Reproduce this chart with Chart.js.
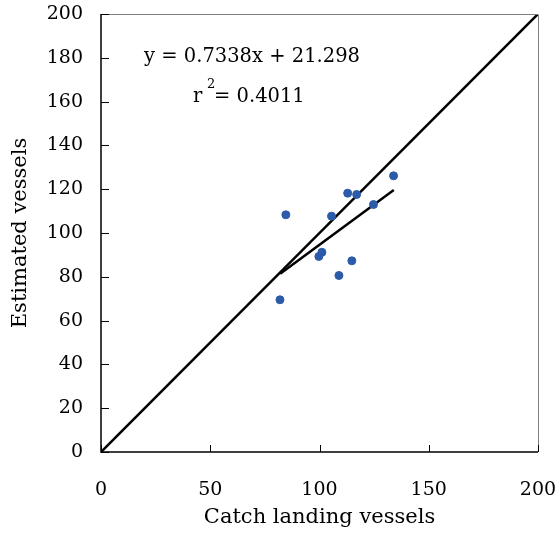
<!DOCTYPE html>
<html>
<head>
<meta charset="utf-8">
<script src="https://cdn.jsdelivr.net/npm/chart.js@4"></script>
<style>
  html, body { margin: 0; padding: 0; background: #fff; }
  #wrap { width: 560px; height: 535px; }
</style>
</head>
<body>
<div id="wrap"><canvas id="vesselChart" width="560" height="535"></canvas></div>
<script>
// values
var catchVessels = [84.6, 105.5, 112.9, 117.0, 133.9, 124.7, 101.1, 99.7, 114.8, 108.9, 81.9];
var estimatedVessels = [108.3, 107.7, 118.2, 117.6, 126.1, 113.0, 91.2, 89.3, 87.3, 80.6, 69.5];
var trendX = [82, 134];
var trendY = [81.4, 119.6];
var diagX = [0, 200];
var diagY = [0, 200];
var axisTicks = [0, 20, 40, 60, 80, 100, 120, 140, 160, 180, 200];
var xTicks = [0, 50, 100, 150, 200];
var equationText = "y = 0.7338x + 21.298";
var rSquaredText = "= 0.4011";

var serif = "'DejaVu Serif', serif";

function toPoints(xs, ys) {
	var pts = [];
	for (var i = 0; i < xs.length; i++) pts.push({x: xs[i], y: ys[i]});
	return pts;
}

// frame, inward ticks and the equation text
var framePlugin = {
	id: 'frame',
	afterDraw: function (chart) {
		var ctx = chart.ctx, a = chart.chartArea;
		var xs = chart.scales.x, ys = chart.scales.y;
		ctx.save();
		ctx.strokeStyle = '#808080';
		ctx.lineWidth = 1;
		ctx.beginPath();
		ctx.moveTo(a.left, a.top + 0.5);
		ctx.lineTo(a.right + 0.5, a.top + 0.5);
		ctx.lineTo(a.right + 0.5, a.bottom);
		ctx.stroke();

		ctx.strokeStyle = '#000';
		ctx.lineWidth = 1.5;
		ctx.beginPath();
		ctx.moveTo(a.left, a.top);
		ctx.lineTo(a.left, a.bottom);
		ctx.lineTo(a.right, a.bottom);
		ctx.stroke();

		ctx.lineWidth = 1;
		ctx.beginPath();
		axisTicks.forEach(function (v) {
			var py = Math.round(ys.getPixelForValue(v)) + 0.5;
			ctx.moveTo(a.left, py);
			ctx.lineTo(a.left + 8, py);
		});
		xTicks.forEach(function (v) {
			var px = Math.round(xs.getPixelForValue(v)) + 0.5;
			ctx.moveTo(px, a.bottom);
			ctx.lineTo(px, a.bottom - 7);
		});
		ctx.stroke();

		ctx.fillStyle = '#000';
		ctx.textBaseline = 'middle';
		ctx.textAlign = 'center';
		ctx.font = '19.5px ' + serif;
		ctx.fillText(equationText, 252, 57);
		ctx.textAlign = 'left';
		ctx.fillText('r', 193, 97);
		ctx.font = '13px ' + serif;
		ctx.fillText('2', 207, 85);
		ctx.font = '19.5px ' + serif;
		ctx.fillText(rSquaredText, 214, 97);
		ctx.restore();
	}
};

var ctx = document.getElementById('vesselChart').getContext('2d');
var vesselChart = new Chart(ctx, {
	type: 'scatter',
	data: {
		datasets: [{
			label: 'Vessels',
			data: toPoints(catchVessels, estimatedVessels),
			backgroundColor: '#2c5ba9',
			borderColor: '#2c5ba9',
			pointRadius: 4,
			order: 0
		}, {
			label: 'Trend',
			type: 'line',
			data: toPoints(trendX, trendY),
			borderColor: '#000',
			borderWidth: 2.5,
			pointRadius: 0,
			fill: false,
			order: 1
		}, {
			label: '1:1',
			type: 'line',
			data: toPoints(diagX, diagY),
			borderColor: '#000',
			borderWidth: 2.5,
			pointRadius: 0,
			fill: false,
			order: 2
		}]
	},
	options: {
		responsive: false,
		animation: false,
		layout: { padding: { top: 14, right: 22, left: 0, bottom: 0 } },
		plugins: { legend: { display: false }, tooltip: { enabled: false } },
		scales: {
			x: {
				type: 'linear', min: 0, max: 200,
				afterFit: function (s) { s.height = 83; s.paddingLeft = 0; s.paddingRight = 0; },
				afterBuildTicks: function (s) { s.ticks = xTicks.map(function (v) { return {value: v}; }); },
				grid: { display: false, drawTicks: false },
				border: { display: false },
				ticks: { color: '#000', padding: 27, maxRotation: 0, font: { family: serif, size: 19 } },
				title: { display: true, text: 'Catch landing vessels', color: '#000', padding: { top: 0, bottom: 5 }, font: { family: serif, size: 21 } }
			},
			y: {
				type: 'linear', min: 0, max: 200,
				afterFit: function (s) { s.width = 101; s.paddingTop = 0; s.paddingBottom = 0; },
				afterBuildTicks: function (s) { s.ticks = axisTicks.map(function (v) { return {value: v}; }); },
				grid: { display: false, drawTicks: false },
				border: { display: false },
				ticks: { color: '#000', padding: 18, font: { family: serif, size: 19 } },
				title: { display: true, text: 'Estimated vessels', color: '#000', padding: { top: 8, bottom: 0 }, font: { family: serif, size: 21 } }
			}
		}
	},
	plugins: [framePlugin]
});
</script>
</body>
</html>
